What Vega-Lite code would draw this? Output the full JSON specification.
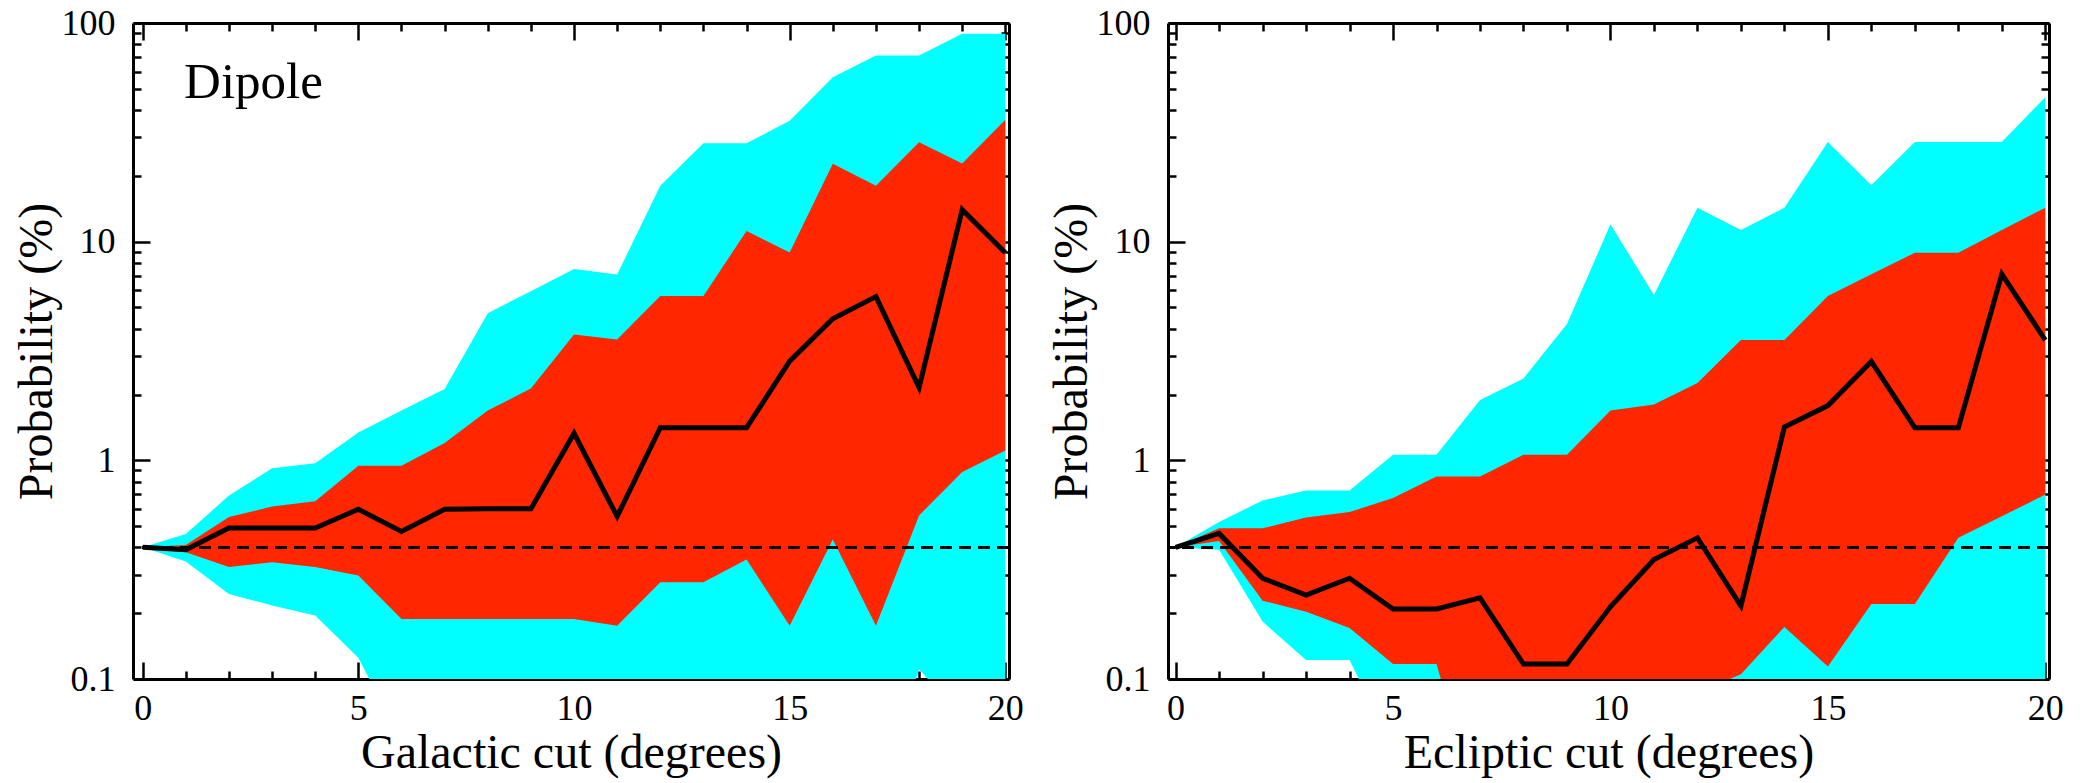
{
  "$schema": "https://vega.github.io/schema/vega-lite/v6.json",
  "background": "white",
  "padding": {"left": 13, "top": 5, "right": 5, "bottom": 5},
  "config": {
    "view": {"stroke": null},
    "font": "Liberation Serif",
    "axis": {
      "labelFont": "Liberation Serif", "titleFont": "Liberation Serif",
      "labelFontSize": 36, "titleFontSize": 48, "titleFontWeight": "normal",
      "labelColor": "black", "titleColor": "black", "domainColor": "black", "tickColor": "black",
      "domainWidth": 3, "tickWidth": 2.5, "grid": false, "zindex": 1,
      "labelFlush": false, "labelOverlap": false
    }
  },
  "datasets": {
    "left": [
      {"x": 0, "cl": 0.4, "ch": 0.4, "rl": 0.4, "rh": 0.4, "m": 0.4},
      {"x": 1, "cl": 0.345, "ch": 0.46, "rl": 0.38, "rh": 0.41, "m": 0.39},
      {"x": 2, "cl": 0.245, "ch": 0.69, "rl": 0.325, "rh": 0.55, "m": 0.49},
      {"x": 3, "cl": 0.217, "ch": 0.92, "rl": 0.342, "rh": 0.615, "m": 0.49},
      {"x": 4, "cl": 0.195, "ch": 0.97, "rl": 0.325, "rh": 0.65, "m": 0.49},
      {"x": 5, "cl": 0.125, "ch": 1.34, "rl": 0.297, "rh": 0.944, "m": 0.597},
      {"x": 6, "cl": 0.052, "ch": 1.69, "rl": 0.188, "rh": 0.944, "m": 0.473},
      {"x": 7, "cl": 0.05, "ch": 2.12, "rl": 0.188, "rh": 1.2, "m": 0.597},
      {"x": 8, "cl": 0.05, "ch": 4.71, "rl": 0.188, "rh": 1.69, "m": 0.6},
      {"x": 9, "cl": 0.05, "ch": 5.94, "rl": 0.188, "rh": 2.13, "m": 0.6},
      {"x": 10, "cl": 0.05, "ch": 7.5, "rl": 0.188, "rh": 3.76, "m": 1.33},
      {"x": 11, "cl": 0.05, "ch": 7.08, "rl": 0.175, "rh": 3.57, "m": 0.554},
      {"x": 12, "cl": 0.05, "ch": 18, "rl": 0.277, "rh": 5.64, "m": 1.41},
      {"x": 13, "cl": 0.05, "ch": 28.2, "rl": 0.277, "rh": 5.64, "m": 1.41},
      {"x": 14, "cl": 0.05, "ch": 28.2, "rl": 0.352, "rh": 11.2, "m": 1.41},
      {"x": 15, "cl": 0.05, "ch": 35.7, "rl": 0.175, "rh": 8.92, "m": 2.84},
      {"x": 16, "cl": 0.05, "ch": 56.5, "rl": 0.435, "rh": 22.7, "m": 4.44},
      {"x": 17, "cl": 0.025, "ch": 71, "rl": 0.175, "rh": 18, "m": 5.61},
      {"x": 18, "cl": 0.111, "ch": 71, "rl": 0.56, "rh": 28.5, "m": 2.15},
      {"x": 19, "cl": 0.066, "ch": 89.4, "rl": 0.885, "rh": 22.8, "m": 14},
      {"x": 20, "cl": 0.066, "ch": 89.4, "rl": 1.11, "rh": 36.1, "m": 8.9}
    ],
    "right": [
      {"x": 0, "cl": 0.4, "ch": 0.4, "rl": 0.4, "rh": 0.4, "m": 0.4},
      {"x": 1, "cl": 0.39, "ch": 0.523, "rl": 0.428, "rh": 0.489, "m": 0.463},
      {"x": 2, "cl": 0.183, "ch": 0.655, "rl": 0.228, "rh": 0.489, "m": 0.289},
      {"x": 3, "cl": 0.122, "ch": 0.727, "rl": 0.203, "rh": 0.548, "m": 0.242},
      {"x": 4, "cl": 0.122, "ch": 0.727, "rl": 0.171, "rh": 0.58, "m": 0.289},
      {"x": 5, "cl": 0.048, "ch": 1.06, "rl": 0.117, "rh": 0.672, "m": 0.209},
      {"x": 6, "cl": 0.04, "ch": 1.06, "rl": 0.117, "rh": 0.843, "m": 0.209},
      {"x": 7, "cl": 0.04, "ch": 1.89, "rl": 0.024, "rh": 0.843, "m": 0.235},
      {"x": 8, "cl": 0.04, "ch": 2.37, "rl": 0.03, "rh": 1.06, "m": 0.117},
      {"x": 9, "cl": 0.04, "ch": 4.2, "rl": 0.03, "rh": 1.06, "m": 0.117},
      {"x": 10, "cl": 0.04, "ch": 12, "rl": 0.03, "rh": 1.69, "m": 0.214},
      {"x": 11, "cl": 0.04, "ch": 5.7, "rl": 0.03, "rh": 1.8, "m": 0.352},
      {"x": 12, "cl": 0.04, "ch": 14.3, "rl": 0.087, "rh": 2.26, "m": 0.442},
      {"x": 13, "cl": 0.04, "ch": 11.3, "rl": 0.105, "rh": 3.55, "m": 0.216},
      {"x": 14, "cl": 0.04, "ch": 14.3, "rl": 0.173, "rh": 3.55, "m": 1.42},
      {"x": 15, "cl": 0.04, "ch": 28.6, "rl": 0.114, "rh": 5.64, "m": 1.78},
      {"x": 16, "cl": 0.04, "ch": 18.1, "rl": 0.22, "rh": 7.1, "m": 2.83},
      {"x": 17, "cl": 0.04, "ch": 28.6, "rl": 0.22, "rh": 8.9, "m": 1.41},
      {"x": 18, "cl": 0.04, "ch": 28.6, "rl": 0.442, "rh": 8.9, "m": 1.41},
      {"x": 19, "cl": 0.04, "ch": 28.6, "rl": 0.555, "rh": 11.3, "m": 7.1},
      {"x": 20, "cl": 0.04, "ch": 45.8, "rl": 0.697, "rh": 14.3, "m": 3.55}
    ]
  },
  "spacing": 159,
  "bounds": "flush",
  "hconcat": [
    {
      "width": 876, "height": 656,
      "data": {"name": "left"},
      "resolve": {"axis": {"x": "independent", "y": "independent"}},
      "layer": [
        {
          "mark": {"type": "area", "color": "#00FFFF", "opacity": 1, "clip": true},
          "encoding": {
            "x": {"field": "x", "type": "quantitative", "scale": {"domain": [-0.225, 20.085], "nice": false, "zero": false},
              "axis": {"orient": "bottom", "values": [0,1,2,3,4,5,6,7,8,9,10,11,12,13,14,15,16,17,18,19,20],
                "tickSize": {"condition": {"test": "datum.value % 5 === 0", "value": -17}, "value": -8},
                "labelExpr": "datum.value % 5 === 0 ? datum.label : ''", "labelPadding": 29, "labelFont": "Liberation Serif",
                "title": "Galactic cut (degrees)", "titlePadding": -6}},
            "y": {"field": "cl", "type": "quantitative", "scale": {"type": "log", "domain": [0.1, 100], "nice": false},
              "axis": {"orient": "left", "values": [0.1,0.2,0.3,0.4,0.5,0.6,0.7,0.8,0.9,1,2,3,4,5,6,7,8,9,10,20,30,40,50,60,70,80,90,100],
                "format": "~g", "labelFont": "Liberation Serif",
                "tickSize": {"condition": {"test": "datum.value === 0.1 || datum.value === 1 || datum.value === 10 || datum.value === 100", "value": -17}, "value": -8},
                "labelExpr": "datum.value === 0.1 || datum.value === 1 || datum.value === 10 || datum.value === 100 ? datum.label : ''",
                "labelPadding": 35, "title": "Probability (%)", "titlePadding": 0}},
            "y2": {"field": "ch"}
          }
        },
        {
          "mark": {"type": "area", "color": "#FF2600", "opacity": 1, "clip": true},
          "encoding": {
            "x": {"field": "x", "type": "quantitative", "scale": {"domain": [-0.225, 20.085], "nice": false, "zero": false},
              "axis": {"orient": "top", "values": [0,1,2,3,4,5,6,7,8,9,10,11,12,13,14,15,16,17,18,19,20],
                "tickSize": {"condition": {"test": "datum.value % 5 === 0", "value": -17}, "value": -8},
                "labels": false, "title": null}},
            "y": {"field": "rl", "type": "quantitative", "scale": {"type": "log", "domain": [0.1, 100], "nice": false},
              "axis": {"orient": "right", "values": [0.1,0.2,0.3,0.4,0.5,0.6,0.7,0.8,0.9,1,2,3,4,5,6,7,8,9,10,20,30,40,50,60,70,80,90,100],
                "tickSize": {"condition": {"test": "datum.value === 0.1 || datum.value === 1 || datum.value === 10 || datum.value === 100", "value": -17}, "value": -8},
                "labels": false, "title": null}},
            "y2": {"field": "rh"}
          }
        },
        {
          "mark": {"type": "rule", "color": "black", "strokeWidth": 2, "strokeDash": [12, 7]},
          "encoding": {
            "y": {"datum": 0.4, "type": "quantitative", "scale": {"type": "log", "domain": [0.1, 100], "nice": false}, "axis": null}
          }
        },
        {
          "mark": {"type": "line", "color": "black", "strokeWidth": 5, "clip": true},
          "encoding": {
            "x": {"field": "x", "type": "quantitative", "scale": {"domain": [-0.225, 20.085], "nice": false, "zero": false}, "axis": null},
            "y": {"field": "m", "type": "quantitative", "scale": {"type": "log", "domain": [0.1, 100], "nice": false}, "axis": null}
          }
        },
        {
          "data": {"values": [{"label": "Dipole", "px": 0.96, "py": 45.5}]},
          "mark": {"type": "text", "align": "left", "baseline": "alphabetic", "fontSize": 51, "font": "Liberation Serif", "color": "black"},
          "encoding": {
            "x": {"field": "px", "type": "quantitative", "scale": {"domain": [-0.225, 20.085], "nice": false, "zero": false}, "axis": null},
            "y": {"field": "py", "type": "quantitative", "scale": {"type": "log", "domain": [0.1, 100], "nice": false}, "axis": null},
            "text": {"field": "label"}
          }
        }
      ]
    },
    {
      "width": 881, "height": 656,
      "data": {"name": "right"},
      "resolve": {"axis": {"x": "independent", "y": "independent"}},
      "layer": [
        {
          "mark": {"type": "area", "color": "#00FFFF", "opacity": 1, "clip": true},
          "encoding": {
            "x": {"field": "x", "type": "quantitative", "scale": {"domain": [-0.175, 20.085], "nice": false, "zero": false},
              "axis": {"orient": "bottom", "values": [0,1,2,3,4,5,6,7,8,9,10,11,12,13,14,15,16,17,18,19,20],
                "tickSize": {"condition": {"test": "datum.value % 5 === 0", "value": -17}, "value": -8},
                "labelExpr": "datum.value % 5 === 0 ? datum.label : ''", "labelPadding": 29, "labelFont": "Liberation Serif",
                "title": "Ecliptic cut (degrees)", "titlePadding": -6}},
            "y": {"field": "cl", "type": "quantitative", "scale": {"type": "log", "domain": [0.1, 100], "nice": false},
              "axis": {"orient": "left", "values": [0.1,0.2,0.3,0.4,0.5,0.6,0.7,0.8,0.9,1,2,3,4,5,6,7,8,9,10,20,30,40,50,60,70,80,90,100],
                "format": "~g", "labelFont": "Liberation Serif",
                "tickSize": {"condition": {"test": "datum.value === 0.1 || datum.value === 1 || datum.value === 10 || datum.value === 100", "value": -17}, "value": -8},
                "labelExpr": "datum.value === 0.1 || datum.value === 1 || datum.value === 10 || datum.value === 100 ? datum.label : ''",
                "labelPadding": 35, "title": "Probability (%)", "titlePadding": 0}},
            "y2": {"field": "ch"}
          }
        },
        {
          "mark": {"type": "area", "color": "#FF2600", "opacity": 1, "clip": true},
          "encoding": {
            "x": {"field": "x", "type": "quantitative", "scale": {"domain": [-0.175, 20.085], "nice": false, "zero": false},
              "axis": {"orient": "top", "values": [0,1,2,3,4,5,6,7,8,9,10,11,12,13,14,15,16,17,18,19,20],
                "tickSize": {"condition": {"test": "datum.value % 5 === 0", "value": -17}, "value": -8},
                "labels": false, "title": null}},
            "y": {"field": "rl", "type": "quantitative", "scale": {"type": "log", "domain": [0.1, 100], "nice": false},
              "axis": {"orient": "right", "values": [0.1,0.2,0.3,0.4,0.5,0.6,0.7,0.8,0.9,1,2,3,4,5,6,7,8,9,10,20,30,40,50,60,70,80,90,100],
                "tickSize": {"condition": {"test": "datum.value === 0.1 || datum.value === 1 || datum.value === 10 || datum.value === 100", "value": -17}, "value": -8},
                "labels": false, "title": null}},
            "y2": {"field": "rh"}
          }
        },
        {
          "mark": {"type": "rule", "color": "black", "strokeWidth": 2, "strokeDash": [12, 7]},
          "encoding": {
            "y": {"datum": 0.4, "type": "quantitative", "scale": {"type": "log", "domain": [0.1, 100], "nice": false}, "axis": null}
          }
        },
        {
          "mark": {"type": "line", "color": "black", "strokeWidth": 5, "clip": true},
          "encoding": {
            "x": {"field": "x", "type": "quantitative", "scale": {"domain": [-0.175, 20.085], "nice": false, "zero": false}, "axis": null},
            "y": {"field": "m", "type": "quantitative", "scale": {"type": "log", "domain": [0.1, 100], "nice": false}, "axis": null}
          }
        }
      ]
    }
  ]
}
